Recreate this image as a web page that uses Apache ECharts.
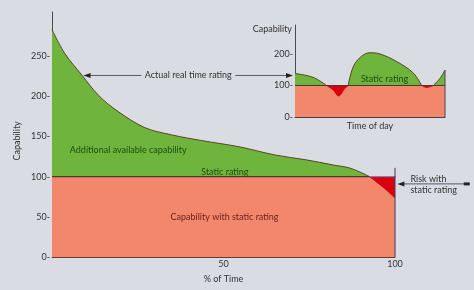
<!DOCTYPE html>
<html><head><meta charset="utf-8">
<script src="https://cdn.jsdelivr.net/npm/echarts@6/dist/echarts.min.js"></script>
<style>html,body{margin:0;padding:0;background:#dadce4;}#c{width:474px;height:290px;}</style>
</head><body><div id="c"></div>
<script>
// ---------- data ----------
const STATIC_RATING = 100;
// main chart: % of time vs capability (duration curve)
const mainTime       = [0,   3.8, 8.7,   13.5,  19.3, 27.1, 34.9, 43.6, 54.8, 65,  74,  82,    87,    92.6, 96.5, 100];
const mainCapability = [283, 253, 226.5, 201.5, 181,  161,  152,  145,  137,  127, 121, 114.5, 110.5, 100,  87,   73.5];
// inset: time of day vs capability
const insetTime       = [0,   12,  21,  25.5, 29, 33.3, 35.5, 40,  50,  56.7, 67.8, 79,  84.4, 87.8, 92.2, 96.7, 100];
const insetCapability = [138, 126, 100, 86,   67, 91,   100,  170, 204, 200,  176,  139, 100,  94,   100,  123,  149];
// tick labels
const mainYTicks  = [0, 50, 100, 150, 200, 250];
const mainXTicks  = [50, 100];
const insetYTicks = [0, 100, 200];

// ---------- styles ----------
const BG = '#dadce4', GREEN = '#6fb43d', PINK = '#f2876c', RED = '#d6000e';
const CURVE = '#5c4222', STATICLINE = '#4a3a30', TXT = '#333333';
const FONT = 'Lato';

function splitSegments(xs, ys, base) {
  const segs = []; let cur = [[xs[0], ys[0]]];
  for (let i = 1; i < xs.length; i++) {
    cur.push([xs[i], ys[i]]);
    if (ys[i] === base && i < xs.length - 1) { segs.push(cur); cur = [[xs[i], ys[i]]]; }
  }
  segs.push(cur);
  return segs.map(pts => ({ pts, above: pts.some(p => p[1] > base) }));
}

function curveSeries(g, xs, ys) {
  return splitSegments(xs, ys, STATIC_RATING).map(s => ({
    type: 'line', xAxisIndex: g, yAxisIndex: g, data: s.pts, smooth: 0.35, symbol: 'none',
    lineStyle: { color: s.above ? CURVE : RED, width: 1 },
    areaStyle: { color: s.above ? GREEN : RED, opacity: 1, origin: STATIC_RATING },
    z: 3, silent: true
  }));
}

const lastCross = mainTime[mainCapability.lastIndexOf(STATIC_RATING)];
const xEnd = mainTime[mainTime.length - 1];
const insetEnd = insetTime[insetTime.length - 1];

const axisLbl = { fontFamily: FONT, fontSize: 9, color: TXT };

const option = {
  backgroundColor: BG,
  animation: false,
  grid: [
    { left: 52, right: 79, top: 12, bottom: 33, outerBoundsMode: 'none' },
    { left: 295, right: 29, top: 25, bottom: 173, outerBoundsMode: 'none' }
  ],
  xAxis: [
    { type: 'value', gridIndex: 0, min: 0, max: 100, interval: 50,
      axisLine: { lineStyle: { color: '#6a3a30', width: 1 } }, axisTick: { show: false }, splitLine: { show: false },
      axisLabel: Object.assign({ margin: 3, formatter: v => mainXTicks.includes(v) ? String(v) : '' }, axisLbl),
      name: '% of Time', nameLocation: 'middle', nameGap: 18, nameTextStyle: axisLbl },
    { type: 'value', gridIndex: 1, min: 0, max: 100,
      axisLine: { lineStyle: { color: '#4a4050', width: 1 } }, axisTick: { show: false }, splitLine: { show: false },
      axisLabel: { show: false },
      name: 'Time of day', nameLocation: 'middle', nameGap: 5, nameTextStyle: axisLbl }
  ],
  yAxis: [
    { type: 'value', gridIndex: 0, min: 0, max: 305, interval: 50,
      axisLine: { show: true, lineStyle: { color: '#4a4a4a', width: 1 } }, axisTick: { show: false }, splitLine: { show: false },
      axisLabel: Object.assign({ margin: 2, formatter: v => mainYTicks.includes(v) ? v + '-' : '' }, axisLbl) },
    { type: 'value', gridIndex: 1, min: 0, max: 292, interval: 100,
      axisLine: { show: true, lineStyle: { color: '#4a4a4a', width: 1 } }, axisTick: { show: false }, splitLine: { show: false },
      axisLabel: Object.assign({ margin: 2, formatter: v => insetYTicks.includes(v) ? v + '-' : '' }, axisLbl) }
  ],
  series: [
    // main: capability with static rating
    { type: 'line', xAxisIndex: 0, yAxisIndex: 0, data: [[0, STATIC_RATING], [xEnd, STATIC_RATING]], symbol: 'none',
      lineStyle: { width: 0 }, areaStyle: { color: PINK, opacity: 1, origin: 'start' }, z: 2, silent: true },
    ...curveSeries(0, mainTime, mainCapability),
    { type: 'line', xAxisIndex: 0, yAxisIndex: 0, data: [[0, STATIC_RATING], [lastCross, STATIC_RATING]], symbol: 'none',
      lineStyle: { color: STATICLINE, width: 1.2 }, z: 4, silent: true },
    { type: 'line', xAxisIndex: 0, yAxisIndex: 0, data: [[lastCross, STATIC_RATING], [xEnd + 2.8, STATIC_RATING]], symbol: 'none',
      clip: false, lineStyle: { color: '#7474bc', width: 1 }, z: 4, silent: true },
    { type: 'line', xAxisIndex: 0, yAxisIndex: 0, data: [[xEnd, 0], [xEnd, 111]], symbol: 'none',
      clip: false, lineStyle: { color: '#3e3a55', width: 1 }, z: 4, silent: true },
    // inset
    { type: 'line', xAxisIndex: 1, yAxisIndex: 1, data: [[0, STATIC_RATING], [insetEnd, STATIC_RATING]], symbol: 'none',
      lineStyle: { width: 0 }, areaStyle: { color: PINK, opacity: 1, origin: 'start' }, z: 2, silent: true },
    ...curveSeries(1, insetTime, insetCapability),
    { type: 'line', xAxisIndex: 1, yAxisIndex: 1, data: [[0, STATIC_RATING], [insetEnd, STATIC_RATING]], symbol: 'none',
      lineStyle: { color: STATICLINE, width: 1 }, z: 4, silent: true },
    { type: 'line', xAxisIndex: 1, yAxisIndex: 1, data: [[insetEnd, 0], [insetEnd, insetCapability[insetCapability.length - 1]]], symbol: 'none',
      clip: false, lineStyle: { color: '#4a4050', width: 1 }, z: 4, silent: true }
  ]
};

const chart = echarts.init(document.getElementById('c'), null, { renderer: 'canvas' });
chart.setOption(option);

// ---------- annotations positioned through the axes ----------
const P = (g, pt) => chart.convertToPixel({ gridIndex: g }, pt);
function txt(pos, text, color, align, extra) {
  return Object.assign({ type: 'text', x: pos[0], y: pos[1], z: 20, silent: true,
    style: { text, fill: color, font: '9px ' + FONT, align: align || 'center', verticalAlign: 'middle' } }, extra || {});
}
function arrowLeft(tip) {
  return { type: 'polygon', z: 20, silent: true, shape: { points: [[tip[0], tip[1]], [tip[0] + 7, tip[1] - 2.5], [tip[0] + 7, tip[1] + 2.5]] }, style: { fill: '#222' } };
}
function arrowRight(tip) {
  return { type: 'polygon', z: 20, silent: true, shape: { points: [[tip[0], tip[1]], [tip[0] - 7, tip[1] - 2.5], [tip[0] - 7, tip[1] + 2.5]] }, style: { fill: '#222' } };
}
function hline(x1, x2, y) {
  return { type: 'line', z: 19, silent: true, shape: { x1, y1: y, x2, y2: y }, style: { stroke: '#555a66', lineWidth: 1 } };
}

const tipL = P(0, [9.2, 226]);
const tipR = [P(1, [0, 135])[0] - 2, tipL[1]];
const midX = (tipL[0] + tipR[0]) / 2;
const riskTip = P(0, [100.7, 91]);
const riskTail = P(0, [121.5, 91]);
const risk1 = P(0, [104.5, 96.5]);
const risk2 = P(0, [104.5, 83]);
const capName = P(0, [0, 144.5]);

chart.setOption({
  graphic: [
    hline(tipL[0] + 5, midX - 47, tipL[1]),
    hline(midX + 47, tipR[0] - 5, tipL[1]),
    arrowLeft(tipL), arrowRight(tipR),
    txt([midX, tipL[1]], 'Actual real time rating', TXT),
    txt(P(0, [5.2, 133]), 'Additional available capability', '#1e4d12', 'left'),
    txt(P(0, [50.4, 106]), 'Static rating', '#1e4d12'),
    txt(P(0, [50.3, 50]), 'Capability with static rating', '#6b1f1a'),
    txt(P(1, [59.7, 120]), 'Static rating', '#1e4d12'),
    txt([P(1, [0, 0])[0] - 3, P(1, [0, 280])[1]], 'Capability', TXT, 'right'),
    txt([capName[0] - 35, capName[1]], 'Capability', TXT, 'center', { rotation: Math.PI / 2 }),
    hline(riskTip[0] + 5, riskTail[0], riskTip[1]),
    arrowLeft(riskTip),
    { type: 'rect', z: 20, silent: true, shape: { x: riskTail[0] - 5, y: riskTip[1] - 1.5, width: 6, height: 3 }, style: { fill: '#222' } },
    txt(risk1, 'Risk with', TXT, 'left'),
    txt(risk2, 'static rating', TXT, 'left')
  ]
});
</script>
</body></html>
